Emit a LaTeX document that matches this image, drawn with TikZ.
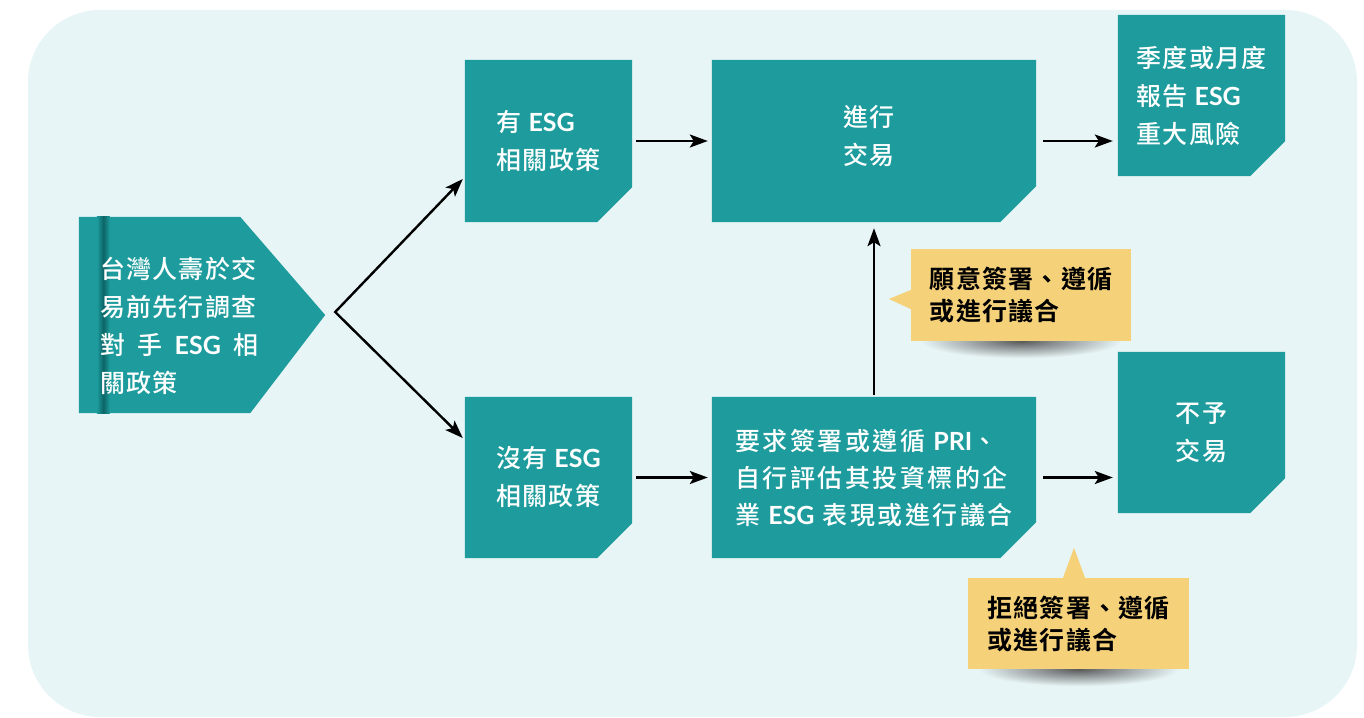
\documentclass[tikz,border=0pt]{standalone}
\usepackage{fontspec}
\setmainfont{Noto Sans CJK TC}[LetterSpace=5,BoldFont={* Bold}]
\newfontfamily\cjkmed{Noto Sans CJK TC Medium}[LetterSpace=5]
\newfontfamily\cjkwide{Noto Sans CJK TC Medium}[LetterSpace=10]
\newfontfamily\LTfont{Lato}
\newcommand\LT[1]{{\LTfont\bfseries #1}}
\usetikzlibrary{arrows.meta,backgrounds,calc}
\definecolor{bgc}{HTML}{E8F5F6}
\definecolor{tealc}{HTML}{1E9C9D}
\definecolor{tealdark}{HTML}{0C6465}
\definecolor{yelc}{HTML}{F5D17A}
\newcommand\cutbox[2]{\fill[tealc] (#1.north west) -- (#1.north east) -- ([yshift=#2pt]#1.south east) -- ([xshift=-#2pt]#1.south east) -- (#1.south west) -- cycle;}
\tikzset{
  tbox/.style={shape=rectangle, inner sep=0pt, align=left, text=white, font=\fontsize{25}{38}\cjkmed},
  smallbox/.style={tbox, minimum width=167pt, minimum height=162pt},
  bigbox/.style={tbox, minimum width=324pt, minimum height=162pt},
  callout/.style={shape=rectangle, inner sep=0pt, align=left, text=black, font=\fontsize{25}{32}\selectfont\bfseries},
  arr/.style={line width=2.4pt, draw=black},
  >={Stealth[length=18pt,width=13pt,inset=4pt]}
}
\begin{document}
\begin{tikzpicture}[x=1pt,y=-1pt]
\useasboundingbox (0,0) rectangle (1364,717);
% nodes
\node[tbox, minimum width=246pt, minimum height=196pt] (start) at (202,315) {};
\node[tbox, anchor=west] (starttext) at (100,326) {台灣人壽於交\\易前先行調查\\\makebox[158pt][s]{對\hfill 手\hfill \LT{ESG}\hfill 相}\\關政策};
\node[smallbox] (yes) at (548.5,141) {有 \LT{ESG}\\相關政策};
\node[bigbox] (trade) at (874,141) {};
\node[tbox] (tradetext) at (869,136) {進行\\交易};
\node[smallbox, minimum height=161pt] (report) at (1201.5,95.5) {季度或月度\\報告 \LT{ESG}\\重大風險};
\node[smallbox, minimum height=161pt] (no) at (548.5,477.5) {沒有 \LT{ESG}\\相關政策};
\node[bigbox, minimum height=161pt, font=\fontsize{25}{37}\cjkwide] (req) at (874,477.5) {要求簽署或遵循 \LT{PRI}、\\自行評估其投資標的企\\業 \LT{ESG} 表現或進行議合};
\node[smallbox, minimum height=161pt] (refuse) at (1201.5,432.5) {不予\\交易};
\node[callout, minimum width=220pt, minimum height=92pt] (agree) at (1021,295) {願意簽署、遵循\\或進行議合};
\node[callout, minimum width=221pt, minimum height=91pt] (decline) at (1078.5,623.5) {拒絕簽署、遵循\\或進行議合};
\coordinate (split) at ($(start.east)+(10,-3)$);
% background shapes
\begin{pgfonlayer}{background}
\fill[bgc, rounded corners=72pt] (28,10) rectangle (1357,717);
\fill[tealc] (start.north west) -- ([xshift=-85pt]start.north east) -- (start.east) -- ([xshift=-75pt]start.south east) -- (start.south west) -- cycle;
\shade[left color=tealc, right color=tealc, middle color=tealdark] ([xshift=18pt]start.north west) rectangle ([xshift=31pt]start.south west);
\cutbox{yes}{35}
\cutbox{trade}{36}
\cutbox{report}{35}
\cutbox{no}{35}
\cutbox{req}{36}
\cutbox{refuse}{35}
\shade[inner color=black!65, outer color=bgc] (agree.south) ellipse [x radius=100, y radius=17];
\shade[inner color=black!65, outer color=bgc] (decline.south) ellipse [x radius=100, y radius=17];
\fill[yelc] (agree.north west) rectangle (agree.south east);
\fill[yelc] ($(agree.west)+(0,-5)$) -- ($(agree.west)+(-22,4)$) -- ($(agree.west)+(0,14)$) -- cycle;
\fill[yelc] (decline.north west) rectangle (decline.south east);
\fill[yelc] ($(decline.north)+(-15.5,0)$) -- ($(decline.north)+(-4.5,-30)$) -- ($(decline.north)+(6.5,0)$) -- cycle;
\end{pgfonlayer}
% connectors
\draw[arr, <->] ($(yes.west)+(-2,38)$) -- (split) -- ($(no.west)+(-2,-39.5)$);
\draw[arr, ->, shorten <=4pt, shorten >=4pt] (yes.east) -- (trade.west);
\draw[arr, ->, shorten <=7pt, shorten >=5pt] (trade.east) -- (trade.east -| report.west);
\draw[arr, ->, shorten <=4pt, shorten >=4pt] (no.east) -- (req.west);
\draw[arr, ->, shorten <=7pt, shorten >=5pt] (req.east) -- (req.east -| refuse.west);
\draw[arr, ->, shorten <=2pt, shorten >=6pt] (req.north) -- (trade.south);
\end{tikzpicture}
\end{document}
